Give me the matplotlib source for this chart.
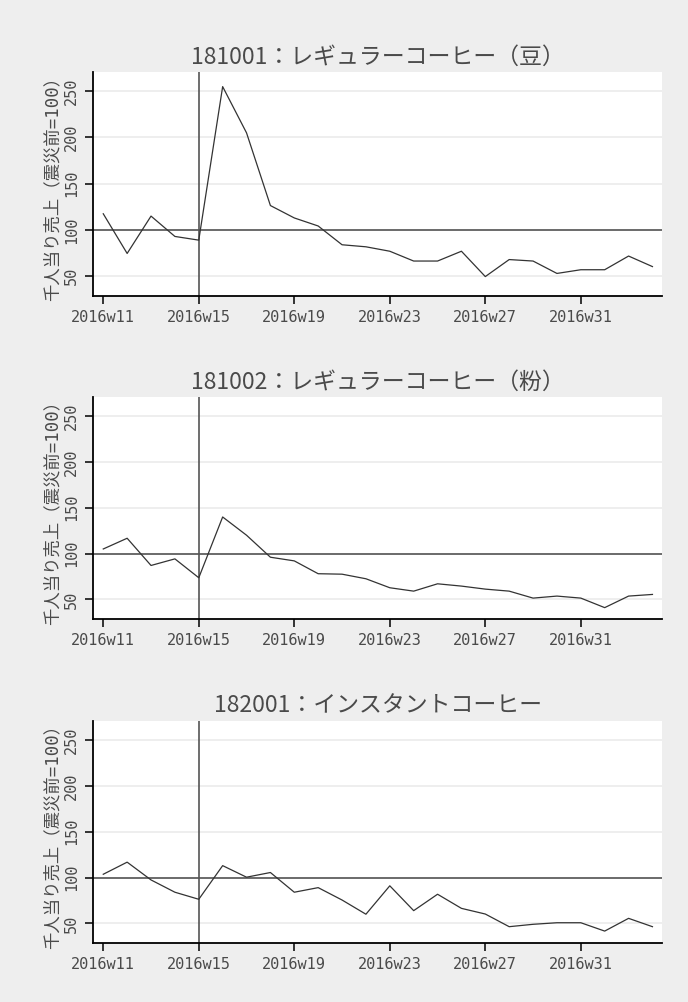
import matplotlib
matplotlib.use("Agg")
import matplotlib.pyplot as plt

weeks = list(range(11, 35))
tick_weeks = [11, 15, 19, 23, 27, 31]
tick_labels = ["2016w%d" % w for w in tick_weeks]
y_ticks = [50, 100, 150, 200, 250]

titles = [
    "181001：レギュラーコーヒー（豆）",
    "181002：レギュラーコーヒー（粉）",
    "182001：インスタントコーヒー",
]
ylabel = "千人当り売上（震災前=100）"

beans = [117.5, 74.6, 115, 93, 89, 255, 205, 126.4, 113, 104.3, 84, 81.8,
         77, 66.4, 66.4, 77, 49.6, 68, 66.4, 53, 57, 57, 71.8, 60.4]
ground = [105, 116.7, 87, 94.2, 73.6, 139.9, 120, 96, 92, 78, 77.5, 72.5,
          62.7, 59, 67, 64.5, 61.2, 59, 51.4, 53.6, 51.4, 41, 53.6, 55.4]
instant = [103.6, 116.8, 97.4, 84, 76.3, 113, 100.4, 105.5, 84, 89, 75.5, 60,
           91, 63.9, 81.8, 66.4, 60.2, 46.4, 49, 50.7, 50.7, 41.6, 55.5, 46.4]
series = [beans, ground, instant]

event_week = 15
baseline = 100

W, H = 688, 1002
bg = "#EEEEEE"
txt = "#4a4a4a"
mono = ["DejaVu Sans Mono"]
cjk = ["Noto Sans CJK JP", "DejaVu Sans"]
label_fam = ["DejaVu Sans Mono", "Noto Sans CJK JP"]

fig = plt.figure(figsize=(W / 100, H / 100), dpi=100, facecolor=bg)

panels = [(72, 296), (397, 619), (721, 943)]
left_px, right_px = 93, 662

for i, ((top, bot), vals, title) in enumerate(zip(panels, series, titles)):
    ax = fig.add_axes([left_px / W, 1 - bot / H, (right_px - left_px) / W, (bot - top) / H])
    ax.set_facecolor("white")
    for yv in y_ticks:
        ax.axhline(yv, color="#EBEBEB", lw=1.2, zorder=0)
    ax.axhline(baseline, color="#555555", lw=1.2, zorder=2)
    ax.axvline(event_week, color="#555555", lw=1.2, zorder=2)
    ax.plot(weeks, vals, color="#333333", lw=0.9, zorder=3)
    ax.set_xlim(10.57, 34.4)
    ax.set_ylim(28.6, 270.8)
    ax.set_xticks(tick_weeks)
    ax.set_xticklabels(tick_labels, family=mono, fontsize=11, color=txt)
    ax.set_yticks(y_ticks)
    ax.set_yticklabels([str(v) for v in y_ticks], family=mono, fontsize=11,
                       color=txt, rotation=90, va="center")
    for s in ["top", "right"]:
        ax.spines[s].set_visible(False)
    for s in ["left", "bottom"]:
        ax.spines[s].set_color("black")
        ax.spines[s].set_linewidth(1.3)
    ax.tick_params(axis="both", length=6, width=1.1, color="black", direction="out")
    ax.tick_params(axis="x", pad=4)
    ax.tick_params(axis="y", pad=4)
    ax.set_ylabel(ylabel, family=label_fam, fontsize=12.5, color=txt, labelpad=2)
    ax.text(0.5, 1 + 15 / (bot - top), title, transform=ax.transAxes,
            ha="center", va="center", family=cjk, fontsize=16.5, color=txt)

fig.savefig("out.png", dpi=100, facecolor=bg)
